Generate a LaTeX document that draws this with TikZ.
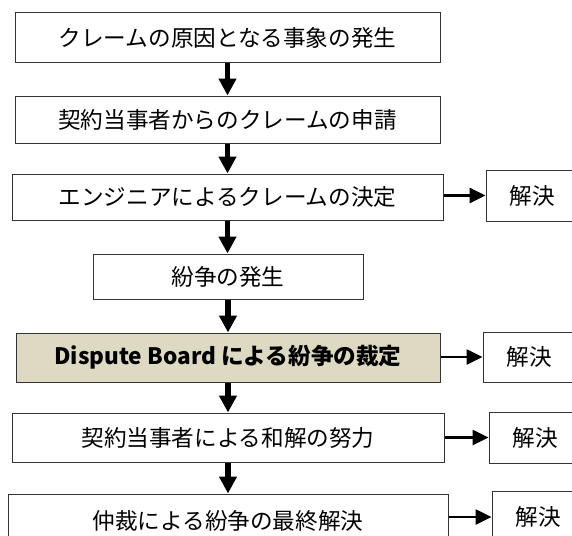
\documentclass[tikz,border=0pt]{standalone}
\usepackage{fontspec}
\setmainfont{Noto Sans CJK JP}
\usetikzlibrary{arrows.meta}
\definecolor{dbfill}{HTML}{DDD9C3}
\tikzset{
  box/.style={draw=black!80, line width=1pt, fill=white, rectangle, inner sep=0pt, font=\fontsize{22.6}{25}\selectfont, text=black},
  varrow/.style={line width=5.5pt, -{Triangle[width=17pt,length=17pt]}, black},
  harrow/.style={line width=2.6pt, -{Triangle[width=15pt,length=16pt]}, black}
}
\begin{document}
\begin{tikzpicture}[x=1pt,y=-1pt]
\useasboundingbox (0,0) rectangle (572,535);
\clip (0,0) rectangle (572,535);
\node[box, minimum width=425pt, minimum height=49pt] (B1) at (227.5,37.5) {クレームの原因となる事象の発生};
\node[box, minimum width=425pt, minimum height=47pt] (B2) at (227.5,119.5) {契約当事者からのクレームの申請};
\node[box, minimum width=431pt, minimum height=46pt] (B3) at (227.5,197) {エンジニアによるクレームの決定};
\node[box, minimum width=270pt, minimum height=45pt] (B4) at (228,276.5) {紛争の発生};
\node[box, fill=dbfill, minimum width=424pt, minimum height=49pt, font=\fontsize{22.6}{25}\selectfont\bfseries] (B5) at (228,357.5) {Dispute Board による紛争の裁定};
\node[box, minimum width=432pt, minimum height=49pt] (B6) at (228,437.5) {契約当事者による和解の努力};
\node[box, minimum width=440pt, minimum height=54pt] (B7) at (228,521) {仲裁による紛争の最終解決};
\node[box, minimum width=93pt, minimum height=51pt] (R1) at (532.5,195.5) {解決};
\node[box, minimum width=93pt, minimum height=50pt] (R2) at (529.5,357) {解決};
\node[box, minimum width=93pt, minimum height=51pt] (R3) at (535.5,437.5) {解決};
\node[box, minimum width=93pt, minimum height=52pt] (R4) at (538.5,517) {解決};
\draw[varrow] (B1.south) -- (B1.south |- B2.north);
\draw[varrow] (B2.south) -- (B2.south |- B3.north);
\draw[varrow] (B3.south) -- (B3.south |- B4.north);
\draw[varrow] (B4.south) -- (B4.south |- B5.north);
\draw[varrow] (B5.south) -- (B5.south |- B6.north);
\draw[varrow] (B6.south) -- (B6.south |- B7.north);
\draw[harrow] (B3.east |- R1.west) -- (R1.west);
\draw[harrow] (B5.east |- R2.west) -- (R2.west);
\draw[harrow] (B6.east |- R3.west) -- (R3.west);
\draw[harrow] (B7.east |- R4.west) -- (R4.west);
\end{tikzpicture}
\end{document}
